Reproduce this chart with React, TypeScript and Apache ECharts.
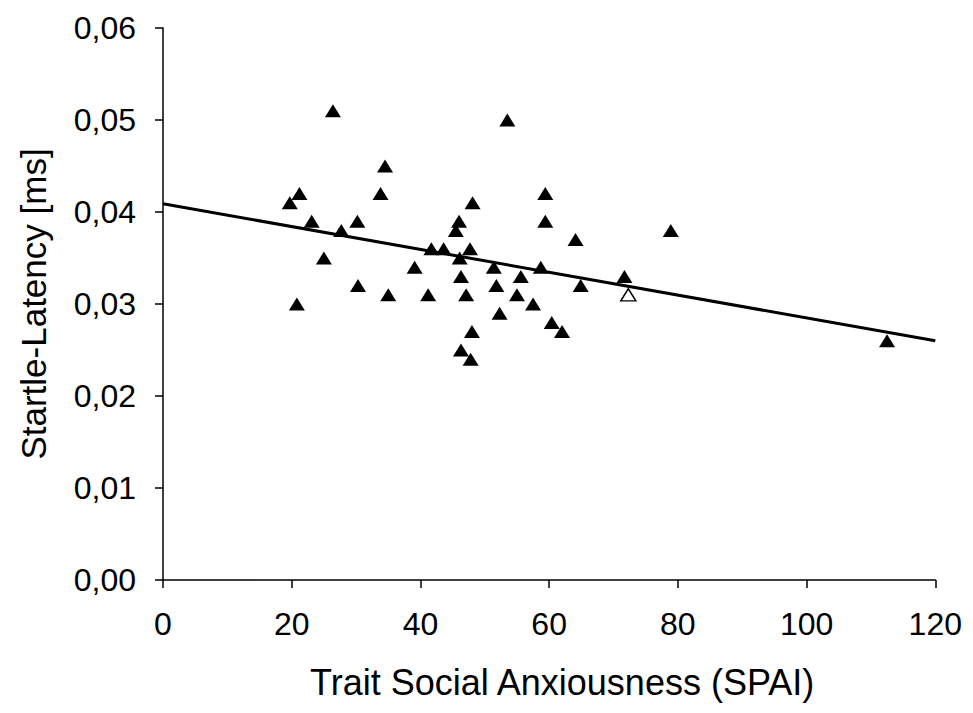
import React, { useEffect, useRef } from "react";
import * as echarts from "echarts";

// SPAI score (x) and startle latency in ms (y)
const spai: number[] = [
  26.4, 34.5, 21.2, 19.7, 33.8, 23.1, 30.2, 27.7, 41.7, 43.6,
  25.0, 39.1, 30.3, 35.0, 41.2, 20.8,
  53.5, 59.4, 48.1, 46.0, 59.4, 45.5, 64.1, 47.7,
  46.1, 51.4, 58.7, 46.3, 55.6, 51.8, 64.9, 47.1, 55.0, 57.5,
  52.3, 60.4, 48.0, 62.0, 46.3, 47.8,
  78.9, 71.7, 112.5,
];
const latency: number[] = [
  0.051, 0.045, 0.042, 0.041, 0.042, 0.039, 0.039, 0.038, 0.036, 0.036,
  0.035, 0.034, 0.032, 0.031, 0.031, 0.030,
  0.050, 0.042, 0.041, 0.039, 0.039, 0.038, 0.037, 0.036,
  0.035, 0.034, 0.034, 0.033, 0.033, 0.032, 0.032, 0.031, 0.031, 0.030,
  0.029, 0.028, 0.027, 0.027, 0.025, 0.024,
  0.038, 0.033, 0.026,
];
// open (hollow) marker
const openSpai: number[] = [72.3];
const openLatency: number[] = [0.031];
// regression line endpoints
const fitX: number[] = [0, 120];
const fitY: number[] = [0.0409, 0.026];

const FONT = "'Liberation Sans', Arial, sans-serif";

export default function App() {
  const ref = useRef<HTMLDivElement>(null);
  useEffect(() => {
    if (!ref.current) return;
    const chart = echarts.init(ref.current, undefined, { renderer: "svg" });
    const axisCommon = {
      axisLine: { show: true, lineStyle: { color: "#000", width: 1.5 } },
      axisTick: { show: true, inside: false, length: 8, lineStyle: { color: "#000", width: 1.5 } },
      splitLine: { show: false },
    };
    chart.setOption({
      animation: false,
      backgroundColor: "#fff",
      grid: { left: 152, right: 25, top: 20, bottom: 115, containLabel: false },
      xAxis: {
        type: "value",
        min: 0,
        max: 120,
        interval: 20,
        ...axisCommon,
        axisLabel: { color: "#000", fontSize: 32, fontFamily: FONT, margin: 28 },
        name: "Trait Social Anxiousness (SPAI)",
        nameLocation: "middle",
        nameGap: 84,
        nameTextStyle: { color: "#000", fontSize: 36, fontFamily: FONT, padding: [0, 0, 0, 26] },
      },
      yAxis: {
        type: "value",
        min: 0,
        max: 0.06,
        interval: 0.01,
        ...axisCommon,
        axisLabel: {
          color: "#000",
          fontSize: 32,
          fontFamily: FONT,
          margin: 27,
          formatter: (v: number) => v.toFixed(2).replace(".", ","),
        },
        name: "Startle-Latency [ms]",
        nameLocation: "middle",
        nameGap: 112,
        nameTextStyle: { color: "#000", fontSize: 35, fontFamily: FONT },
      },
      series: [
        {
          type: "line",
          data: fitX.map((x, i) => [x, fitY[i]]),
          symbol: "none",
          lineStyle: { color: "#000", width: 3 },
          z: 1,
        },
        {
          type: "scatter",
          data: spai.map((x, i) => [x, latency[i]]),
          symbol: "triangle",
          symbolSize: [16, 13],
          itemStyle: { color: "#000", opacity: 1 },
          z: 3,
        },
        {
          type: "scatter",
          data: openSpai.map((x, i) => [x, openLatency[i]]),
          symbol: "triangle",
          symbolSize: [15, 12],
          itemStyle: { color: "#fff", borderColor: "#000", borderWidth: 1.5, opacity: 1 },
          z: 3,
        },
      ],
    });
    return () => chart.dispose();
  }, []);
  return <div ref={ref} style={{ width: 957, height: 697 }} />;
}
